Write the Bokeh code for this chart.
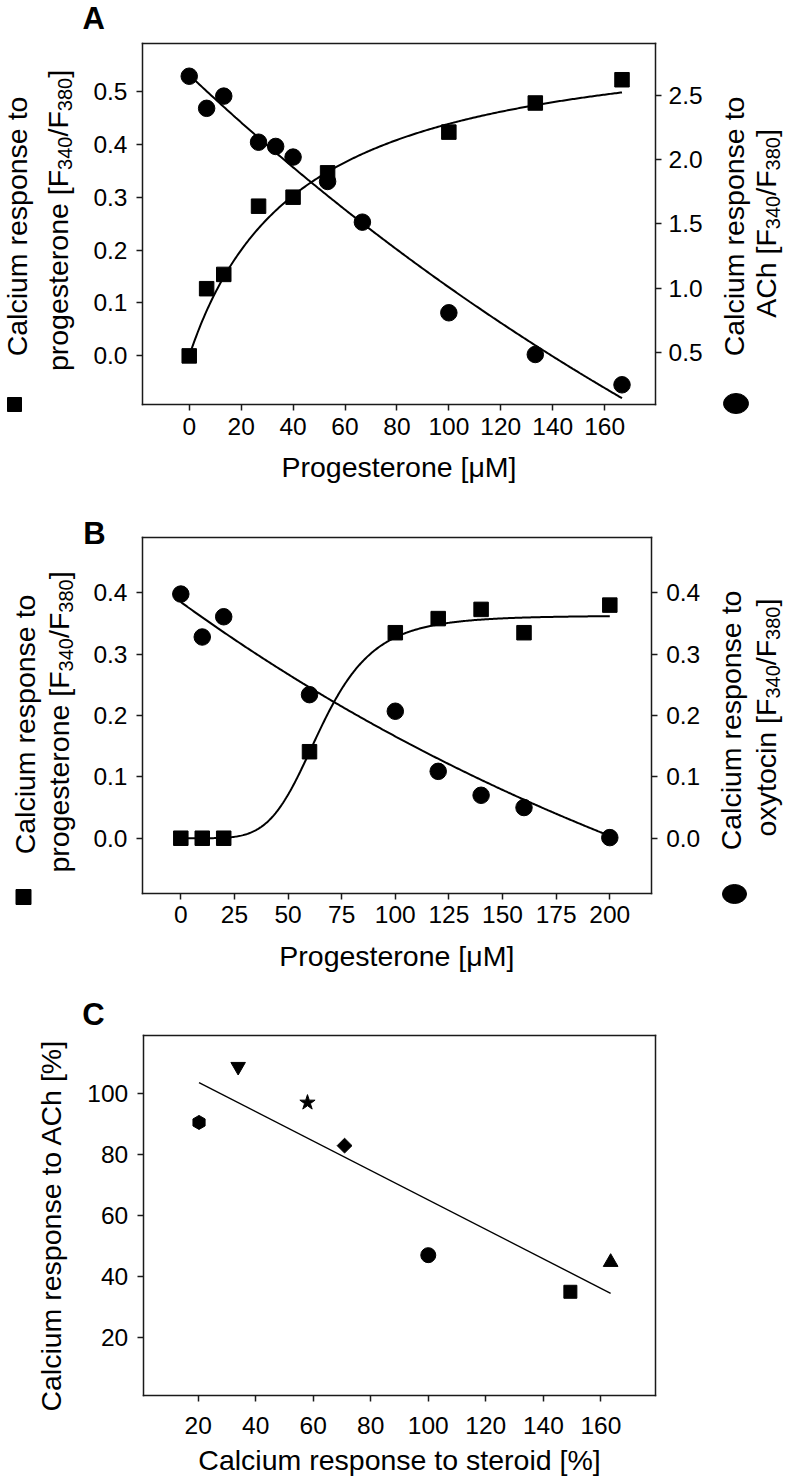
import math
import numpy as np
from bokeh.plotting import figure
from bokeh.models import Range1d, LinearAxis, FixedTicker, Label, NumeralTickFormatter
from bokeh.layouts import column
from bokeh.embed import file_html
from bokeh.resources import INLINE

FONT = "Liberation Sans"
TICK_PX = 24.5
TITLE_PX = 28.5
SUB_PX = 20
INK = "#1a1a1a"
W_PX = 786
BASE_SHIFT = 0.4   # compensation for where the label anchor falls relative to the baseline

# ---------------- Panel A ----------------
a_sq_x = [0, 6.7, 13.3, 26.7, 40, 53.3, 100, 133.3, 166.7]
a_sq_y = [0.0, 0.127, 0.154, 0.283, 0.300, 0.346, 0.423, 0.478, 0.522]
a_ci_x = [0, 6.7, 13.3, 26.7, 33.3, 40, 53.3, 66.7, 100, 133.3, 166.7]
a_ci_y = [2.65, 2.40, 2.495, 2.136, 2.103, 2.02, 1.83, 1.513, 0.807, 0.482, 0.246]
a_xticks = [0, 20, 40, 60, 80, 100, 120, 140, 160]
a_yticks_left = [0.0, 0.1, 0.2, 0.3, 0.4, 0.5]
a_yticks_right = [0.5, 1.0, 1.5, 2.0, 2.5]
a_sq_fit = dict(bmax=0.625, kd=42.5)          # hyperbolic fit
a_ci_fit = dict(a=6.57, k=0.0029, c=-3.91)     # exponential decay fit

# ---------------- Panel B ----------------
b_x = [0, 10, 20, 60, 100, 120, 140, 160, 200]
b_sq_y = [0.0, 0.0, 0.0, 0.141, 0.335, 0.358, 0.373, 0.335, 0.380]
b_ci_y = [0.398, 0.328, 0.361, 0.234, 0.207, 0.109, 0.070, 0.050, 0.001]
b_xticks = [0, 25, 50, 75, 100, 125, 150, 175, 200]
b_yticks = [0.0, 0.1, 0.2, 0.3, 0.4]
b_sq_fit = dict(top=0.363, ec50=65.5, n=5.24)  # sigmoidal fit
b_ci_fit = dict(a=0.845, k=0.003, c=-0.46)     # exponential decay fit

# ---------------- Panel C ----------------
c_x = [20.3, 33.9, 58.0, 70.9, 100.0, 149.4, 163.4]
c_y = [90.4, 108.7, 96.9, 82.8, 46.9, 34.9, 44.6]
c_markers = ["hex", "inverted_triangle", "star", "diamond", "circle", "square", "triangle"]
c_xticks = [20, 40, 60, 80, 100, 120, 140, 160]
c_yticks = [20, 40, 60, 80, 100]

# Arial / Liberation Sans advance widths (per 1000 em)
W = {' ': 278, '[': 278, ']': 278, '/': 278, '%': 889, 'F': 611, 'A': 667, 'C': 722,
     'M': 833, 'P': 667, 'a': 556, 'c': 500, 'd': 556, 'e': 556, 'g': 556, 'h': 556,
     'i': 222, 'l': 222, 'm': 833, 'n': 556, 'o': 556, 'p': 556, 'r': 333, 's': 500,
     't': 278, 'u': 556, 'x': 500, 'y': 500}
for _d in "0123456789":
    W[_d] = 556


def tw(s, size):
    return sum(W.get(ch, 556) for ch in s) / 1000.0 * size


def y_range_for(P, lim):
    L, T, R, B = P["box"]
    s = (lim[1] - lim[0]) / (B - T)
    return Range1d(lim[0] - (P["top"] + P["h"] - B) * s, lim[1] + (T - P["top"]) * s)


def make_panel(P):
    L, T, R, B = P["box"]
    xl = P["xlim"]
    s = (xl[1] - xl[0]) / (R - L)
    xr = Range1d(xl[0] - L * s, xl[1] + (W_PX - R) * s)
    p = figure(width=W_PX, height=P["h"], x_range=xr, y_range=y_range_for(P, P["ylim"]),
               min_border=0, output_backend="svg", toolbar_location=None, tools="")
    p.grid.visible = False
    p.outline_line_color = None
    p.background_fill_color = "white"
    p.border_fill_color = "white"
    return p


def style_axis(ax, ticks, fmt, standoff, loc, bounds):
    ax.fixed_location = loc
    ax.bounds = tuple(bounds)
    ax.ticker = FixedTicker(ticks=ticks)
    ax.formatter = NumeralTickFormatter(format=fmt)
    ax.axis_line_color = INK
    ax.axis_line_width = 1.5
    ax.axis_line_cap = "square"
    ax.major_tick_in = 0
    ax.major_tick_out = 6
    ax.major_tick_line_color = INK
    ax.major_tick_line_width = 1.5
    ax.minor_tick_line_color = None
    ax.major_label_text_font = FONT
    ax.major_label_text_font_size = f"{TICK_PX}px"
    ax.major_label_text_color = "black"
    ax.major_label_standoff = standoff


def box_axes(p, P, xticks, yticks, xfmt, yfmt, xstand, ystand, right=None):
    xl, yl = P["xlim"], P["ylim"]
    style_axis(p.xaxis[0], xticks, xfmt, xstand, yl[0], xl)
    style_axis(p.yaxis[0], yticks, yfmt, ystand, xl[0], yl)
    top = LinearAxis()
    style_axis(top, [], "0", 0, yl[1], xl)
    p.add_layout(top, "above")
    if right is None:
        rax = LinearAxis()
        style_axis(rax, [], "0", 0, xl[1], yl)
    else:
        rname, rticks, rfmt, rstand, rlim = right
        rax = LinearAxis(y_range_name=rname)
        style_axis(rax, rticks, rfmt, rstand, xl[1], rlim)
    p.add_layout(rax, "right")


def add_text(p, P, px, py, text, size, angle=0.0, align="left", bold=False):
    shift = BASE_SHIFT * size
    if angle == 0.0:
        py -= shift
    else:
        px -= shift
    p.add_layout(Label(x=px, y=P["top"] + P["h"] - py, x_units="screen", y_units="screen",
                       text=text, angle=angle, text_align=align, text_baseline="alphabetic",
                       text_font=FONT, text_font_size=f"{size}px",
                       text_font_style="bold" if bold else "normal", text_color="black"))


def add_vertical(p, P, x_base, y_center, pieces):
    total = sum(tw(t, s) for t, s, sh in pieces)
    y = y_center + total / 2.0
    for t, s, sh in pieces:
        add_text(p, P, x_base + sh, y, t, s, angle=math.pi / 2, align="left")
        y -= tw(t, s)


def page_to_data(p, P, px, py):
    xr, yr = p.x_range, p.y_range
    xd = xr.start + px * (xr.end - xr.start) / W_PX
    yd = yr.start + (P["top"] + P["h"] - py) * (yr.end - yr.start) / P["h"]
    return xd, yd


def f340(prefix):
    return [(prefix + "[F", TITLE_PX, 0), ("340", SUB_PX, 3), ("/F", TITLE_PX, 0),
            ("380", SUB_PX, 3), ("]", TITLE_PX, 0)]


# ================= Figure A =================
PA = dict(top=0, h=495, box=(142, 43, 655, 404), xlim=(-18, 179.6), ylim=(-0.0919, 0.5905))
a_right_lim = (0.0924, 2.905)
pA = make_panel(PA)
pA.extra_y_ranges = {"ach": y_range_for(PA, a_right_lim)}
box_axes(pA, PA, a_xticks, a_yticks_left, "0", "0.0", 7, 9,
         right=("ach", a_yticks_right, "0.0", 7, a_right_lim))

xs = np.linspace(0, max(a_sq_x), 300)
pA.line(xs, a_sq_fit["bmax"] * xs / (a_sq_fit["kd"] + xs), line_width=2, color="black")
xs = np.linspace(0, max(a_ci_x), 300)
pA.line(xs, a_ci_fit["a"] * np.exp(-a_ci_fit["k"] * xs) + a_ci_fit["c"], line_width=2,
        color="black", y_range_name="ach")
pA.scatter(a_sq_x, a_sq_y, marker="square", size=14.5, color="black")
pA.scatter(a_ci_x, a_ci_y, marker="circle", size=16.5, color="black", y_range_name="ach")

add_text(pA, PA, 82, 30.7, "A", 31, bold=True)
add_vertical(pA, PA, 28, 226, [("Calcium response to", TITLE_PX, 0)])
add_vertical(pA, PA, 69, 220, f340("progesterone "))
add_vertical(pA, PA, 745, 226, [("Calcium response to", TITLE_PX, 0)])
add_vertical(pA, PA, 777, 223, f340("ACh "))
add_text(pA, PA, 398.5, 478, "Progesterone [\u03BCM]", TITLE_PX, align="center")
sx, sy = page_to_data(pA, PA, 14, 404)
pA.scatter([sx], [sy], marker="square", size=14, color="black")
ex, ey = page_to_data(pA, PA, 735.5, 403)
pA.ellipse(x=ex, y=ey, width=25, height=20, width_units="screen", height_units="screen",
           color="black")

# ================= Figure B =================
PB = dict(top=495, h=490, box=(142, 537.3, 650.7, 892.7), xlim=(-17.86, 219.3),
          ylim=(-0.0896, 0.4897))
pB = make_panel(PB)
box_axes(pB, PB, b_xticks, b_yticks, "0", "0.0", 7, 9,
         right=("default", b_yticks, "0.0", 9, PB["ylim"]))

xs = np.linspace(0.01, max(b_x), 400)
pB.line(xs, b_sq_fit["top"] / (1 + (b_sq_fit["ec50"] / xs) ** b_sq_fit["n"]), line_width=2,
        color="black")
xs = np.linspace(0, max(b_x), 300)
pB.line(xs, b_ci_fit["a"] * np.exp(-b_ci_fit["k"] * xs) + b_ci_fit["c"], line_width=2,
        color="black")
pB.scatter(b_x, b_sq_y, marker="square", size=14.5, color="black")
pB.scatter(b_x, b_ci_y, marker="circle", size=16.5, color="black")

add_text(pB, PB, 82.7, 545, "B", 31, bold=True)
add_vertical(pB, PB, 35.5, 724, [("Calcium response to", TITLE_PX, 0)])
add_vertical(pB, PB, 70, 721.5, f340("progesterone "))
add_vertical(pB, PB, 742, 720, [("Calcium response to", TITLE_PX, 0)])
add_vertical(pB, PB, 777, 717, f340("oxytocin "))
add_text(pB, PB, 396.3, 967, "Progesterone [\u03BCM]", TITLE_PX, align="center")
sx, sy = page_to_data(pB, PB, 23, 896.5)
pB.scatter([sx], [sy], marker="square", size=15, color="black")
ex, ey = page_to_data(pB, PB, 734, 893.5)
pB.ellipse(x=ex, y=ey, width=24, height=19, width_units="screen", height_units="screen",
           color="black")

# ================= Figure C =================
PC = dict(top=985, h=497, box=(142.7, 1035, 655.3, 1395), xlim=(0.89, 179.1), ylim=(0.9, 118.9))
pC = make_panel(PC)
box_axes(pC, PC, c_xticks, c_yticks, "0", "0", 15, 9)

coef = np.polyfit(c_x, c_y, 1)
lx = np.array([min(c_x), max(c_x)])
pC.line(lx, coef[0] * lx + coef[1], line_width=1.4, color="black")

marker_style = {
    "hex": dict(marker="hex", size=14, angle=math.pi / 2),
    "inverted_triangle": dict(marker="inverted_triangle", size=14.5, angle=0),
    "star": dict(marker="star", size=16, angle=0),
    "diamond": dict(marker="square", size=10.5, angle=math.pi / 4),
    "circle": dict(marker="circle", size=15, angle=0),
    "square": dict(marker="square", size=13, angle=0),
    "triangle": dict(marker="triangle", size=14.7, angle=0),
}
for xv, yv, m in zip(c_x, c_y, c_markers):
    st = marker_style[m]
    pC.scatter([xv], [yv], marker=st["marker"], size=st["size"], angle=st["angle"], color="black")

add_text(pC, PC, 81.7, 1026.7, "C", 31, bold=True)
add_vertical(pC, PC, 62, 1225, [("Calcium response to ACh [%]", TITLE_PX, 0)])
add_text(pC, PC, 399, 1471, "Calcium response to steroid [%]", TITLE_PX, align="center")

layout = column(pA, pB, pC)
open("out.html", "w").write(file_html(layout, INLINE))
